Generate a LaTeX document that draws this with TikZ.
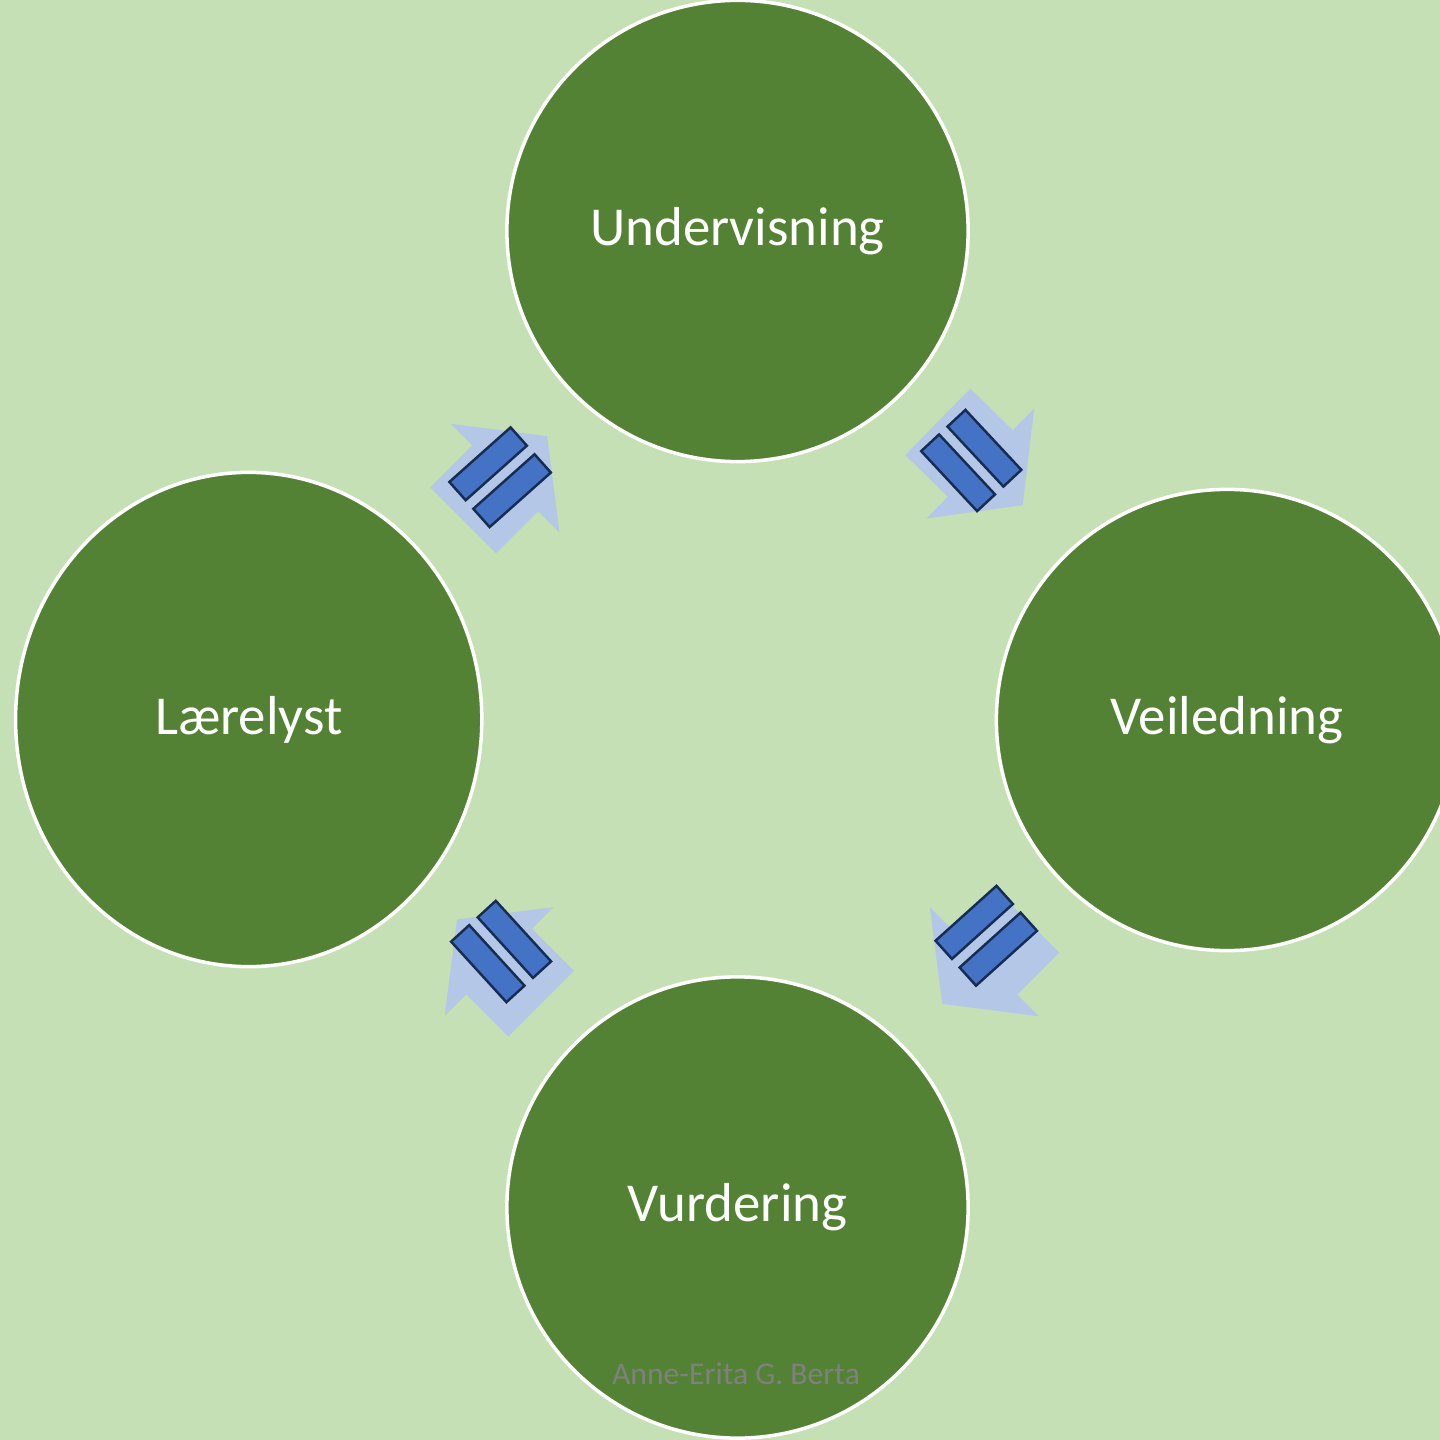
\documentclass[tikz,border=0pt]{standalone}
\usepackage{fontspec}
\setmainfont{Carlito}
\usetikzlibrary{calc,shapes.geometric}

\definecolor{bgreen}{HTML}{C5E0B4}
\definecolor{leaf}{HTML}{548235}
\definecolor{pale}{HTML}{B4C7E7}
\definecolor{barblue}{HTML}{4472C4}
\definecolor{barline}{HTML}{172C51}

% block arrow between two stages: from, to, shift, angle, bar shift, bar angle
\newcommand{\blockarrow}[6]{%
  \begin{scope}[shift={($(#1)!.5!(#2)+(#3)$)}]
    \fill[pale,rotate=#4] (-59.5,-46.5) -- (0,-46.5) -- (0,-77) -- (59.5,0)
      -- (0,77) -- (0,46.5) -- (-59.5,46.5) -- cycle;
    \begin{scope}[shift={(#5)},rotate=#6]
      \draw[arrowbar] (-41,-30.25) rectangle (41,-5.75);
      \draw[arrowbar] (-41,5.75) rectangle (41,30.25);
    \end{scope}
  \end{scope}}

\begin{document}
\begin{tikzpicture}[x=0.01cm,y=-0.01cm,
    stage/.style={circle,fill=leaf,draw=white,line width=1pt,
      minimum size=4.61cm,text=white,font=\fontsize{15.6}{18}\selectfont},
    arrowbar/.style={fill=barblue,draw=barline,line width=0.7pt}]

  \clip (0,0) rectangle (1440,1440);
  \fill[bgreen] (0,0) rectangle (1440,1440);

  \node[stage] (und) at (737.5,231) {Undervisning};
  \node[stage] (vei) at (1227,720) {Veiledning};
  \node[stage] (vur) at (737.5,1207.5) {Vurdering};
  \node[stage,ellipse,minimum width=4.66cm,minimum height=4.94cm]
    (laer) at (248.7,719.5) {Lærelyst};

  \blockarrow{laer}{und}{12,3}{45}{-5,-1}{41.7}
  \blockarrow{und}{vei}{-2,-12}{-44.4}{-9,-3}{-47}
  \blockarrow{vei}{vur}{2,-2}{-135}{2,-26}{-138}
  \blockarrow{vur}{laer}{6,-2}{135}{2,-10}{132.4}

  \node[text=black!50,font=\fontsize{9}{11}\selectfont] (sign) at (736,1374)
    {Anne-Erita G. Berta};
\end{tikzpicture}
\end{document}
